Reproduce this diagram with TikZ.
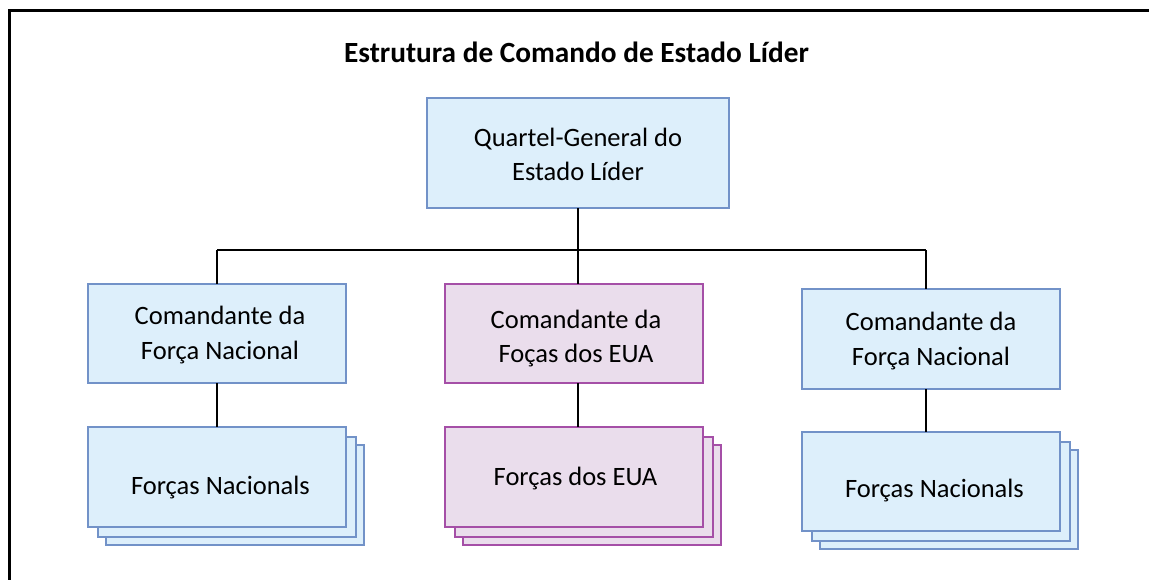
\documentclass[tikz,border=0pt]{standalone}
\usepackage{fontspec}
\setmainfont{Carlito}
\usetikzlibrary{calc}
\definecolor{bfill}{HTML}{DDEFFB}
\definecolor{bdraw}{HTML}{7292C8}
\definecolor{pfill}{HTML}{EADDEC}
\definecolor{pdraw}{HTML}{A54FA7}
\begin{document}
\begin{tikzpicture}[x=1pt,y=-1pt,
  box/.style={draw=bdraw, fill=bfill, line width=1.3pt, minimum width=258pt, minimum height=99pt, inner sep=0pt, outer sep=0pt},
  pbox/.style={box, draw=pdraw, fill=pfill},
  conn/.style={line width=2.9pt, black},
  frame/.style={line width=3pt, black},
  lbl/.style={anchor=base, align=center, inner sep=0pt, font=\fontsize{26.5}{34.5}\selectfont},
  ttl/.style={anchor=base, inner sep=0pt, font=\bfseries\fontsize{29.3}{35}\selectfont}]
\useasboundingbox (0,0) rectangle (1149,579);
% outer frame (open to right and bottom, as cropped)
\coordinate (fa) at (1151,10);
\coordinate (fb) at (9,10);
\coordinate (fc) at (9,581);
\draw[frame] (fa) -- (fb) -- (fc);
% title
\node[ttl] (title) at (576.5,62) {Estrutura de Comando de Estado Líder};
% top box
\node[box, minimum width=302pt, minimum height=110pt] (q) at (578,153) {};
\node[lbl] (qt) at (578,180.5) {Quartel-General do\\Estado Líder};
% middle level
\node[box] (cl) at (217,333.5) {};
\node[lbl] (clt) at (220,359.3) {Comandante da\\Força Nacional};
\node[pbox] (cm) at (574,333.5) {};
\node[lbl] (cmt) at (576,362.5) {Comandante da\\Foças dos EUA};
\node[box, minimum height=100pt] (cr) at (931,339) {};
\node[lbl] (crt) at (931,365) {Comandante da\\Força Nacional};
% stacks left
\node[box, minimum height=100pt] (fl3) at (235,495) {};
\node[box, minimum height=100pt] (fl2) at (227,487) {};
\node[box, minimum height=100pt] (fl) at (217,477) {};
\node[lbl] (flt) at (220.5,494) {Forças Nacionals};
% stacks middle
\node[pbox, minimum height=100pt] (fm3) at (592,495) {};
\node[pbox, minimum height=100pt] (fm2) at (584,487) {};
\node[pbox, minimum height=100pt] (fm) at (574,477) {};
\node[lbl] (fmt) at (575.5,485) {Forças dos EUA};
% stacks right
\node[box] (fr3) at (949,499.5) {};
\node[box] (fr2) at (941,491.5) {};
\node[box] (fr) at (931,481.5) {};
\node[lbl] (frt) at (934.5,497) {Forças Nacionals};
% connectors
\coordinate (barL) at (217,250);
\coordinate (barR) at (926,250);
\draw[conn] (q.south) -- (q.south |- cm.north);
\draw[conn] (barL) -- (barR);
\draw[conn] (barL) -- (cl.north);
\draw[conn] (barR) -- (barR |- cr.north);
\draw[conn] (cl.south) -- (fl.north);
\draw[conn] (q.south |- cm.south) -- (q.south |- fm.north);
\draw[conn] (barR |- cr.south) -- (barR |- fr.north);
\end{tikzpicture}
\end{document}
